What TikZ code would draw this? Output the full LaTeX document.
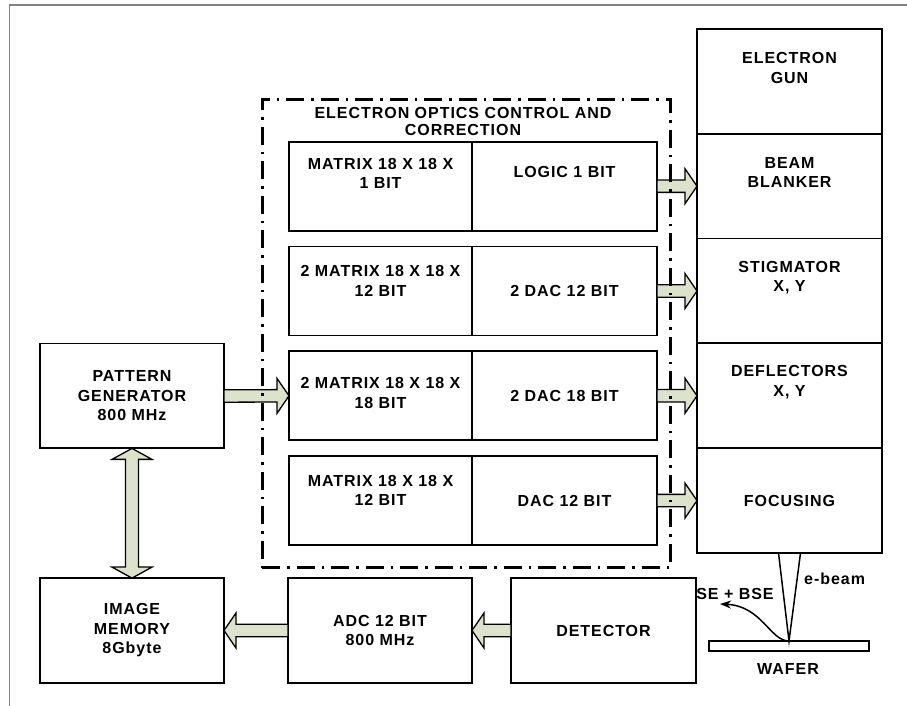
\documentclass[tikz,border=0pt]{standalone}
\usepackage{fontspec}
\setmainfont{Liberation Sans}[LetterSpace=6]
\usetikzlibrary{arrows.meta,positioning,calc}
\definecolor{arrowfill}{RGB}{221,226,204}
\definecolor{framegray}{RGB}{130,130,130}
\newcommand{\boxfont}{\bfseries\fontsize{16}{19.5}\selectfont}

\begin{document}
\begin{tikzpicture}[
    x=1pt, y=1pt,
    blk/.style={draw, line width=1.8pt, outer sep=0pt, align=center, font=\boxfont, minimum width=184pt, minimum height=104.8pt},
    cell/.style={blk, minimum height=89pt},
    txt/.style={align=center, font=\boxfont, inner sep=0pt},
    ctrl/.style={draw, line width=3pt, dash pattern=on 18pt off 7pt on 2.5pt off 7pt},
    frame/.style={draw=framegray, line width=1.4pt},
    beam/.style={line width=1.5pt, line join=miter},
    emit/.style={line width=1.5pt, -{Stealth[length=11pt, width=8pt]}},
    fat/.style={draw, fill=arrowfill, line width=1.3pt, to path={
        ($(\tikztostart)!6.2pt!90:(\tikztotarget)$)
        -- ($(\tikztotarget)!12pt!(\tikztostart)!6.2pt!90:(\tikztotarget)$)
        -- ($(\tikztotarget)!12pt!(\tikztostart)!17.5pt!90:(\tikztotarget)$)
        -- (\tikztotarget)
        -- ($(\tikztotarget)!12pt!(\tikztostart)!17.5pt!-90:(\tikztotarget)$)
        -- ($(\tikztotarget)!12pt!(\tikztostart)!6.2pt!-90:(\tikztotarget)$)
        -- ($(\tikztostart)!6.2pt!-90:(\tikztotarget)$) -- cycle}},
    fatboth/.style={draw, fill=arrowfill, line width=1.3pt, to path={
        ($(\tikztostart)!11pt!(\tikztotarget)!6.5pt!90:(\tikztotarget)$)
        -- ($(\tikztotarget)!11pt!(\tikztostart)!6.5pt!90:(\tikztotarget)$)
        -- ($(\tikztotarget)!11pt!(\tikztostart)!20pt!90:(\tikztotarget)$)
        -- (\tikztotarget)
        -- ($(\tikztotarget)!11pt!(\tikztostart)!20pt!-90:(\tikztotarget)$)
        -- ($(\tikztotarget)!11pt!(\tikztostart)!6.5pt!-90:(\tikztotarget)$)
        -- ($(\tikztostart)!11pt!(\tikztotarget)!6.5pt!-90:(\tikztotarget)$)
        -- ($(\tikztostart)!11pt!(\tikztotarget)!20pt!-90:(\tikztotarget)$)
        -- (\tikztostart)
        -- ($(\tikztostart)!11pt!(\tikztotarget)!20pt!90:(\tikztotarget)$) -- cycle}}
]
\useasboundingbox (0,0) rectangle (907,706);
\draw[frame] (9.5,0) -- (9.5,701) -- (907,701);

% column of the electron optics
\node[blk, minimum width=185pt, label={[txt, yshift=13.5pt]center:ELECTRON\\GUN}] (gun) at (789.5,624.6) {};
\node[blk, minimum width=185pt, below=0pt of gun, label={[txt, yshift=13.5pt]center:BEAM\\BLANKER}] (blank) {};
\node[blk, minimum width=185pt, below=0pt of blank, label={[txt, yshift=13.5pt]center:STIGMATOR\\X, Y}] (stig) {};
\node[blk, minimum width=185pt, below=0pt of stig, label={[txt, yshift=13.5pt]center:DEFLECTORS\\X, Y}] (defl) {};
\node[blk, minimum width=185pt, below=0pt of defl] (foc) {FOCUSING};

% control and correction
\node[txt, font=\bfseries\fontsize{16}{17.5}\selectfont] (title) at (463,584.5) {ELECTRON OPTICS CONTROL AND\\CORRECTION};
\node[cell, minimum width=183pt, label={[txt, yshift=13pt]center:MATRIX 18 X 18 X\\1 BIT}] (mat1) at (380.5,519.8) {};
\node[cell, minimum width=185pt, right=0pt of mat1, label={[txt, yshift=14pt]center:LOGIC 1 BIT}] (logic1) {};
\node[cell, minimum width=183pt, below=15.8pt of mat1, label={[txt, yshift=10pt]center:2 MATRIX 18 X 18 X\\12 BIT}] (mat2) {};
\node[cell, minimum width=185pt, right=0pt of mat2] (dac2) {2 DAC 12 BIT};
\node[cell, minimum width=183pt, below=15.8pt of mat2, label={[txt, yshift=3pt]center:2 MATRIX 18 X 18 X\\18 BIT}] (mat3) {};
\node[cell, minimum width=185pt, right=0pt of mat3] (dac3) {2 DAC 18 BIT};
\node[cell, minimum width=183pt, below=15.8pt of mat3, label={[txt, yshift=10pt]center:MATRIX 18 X 18 X\\12 BIT}] (mat4) {};
\node[cell, minimum width=185pt, right=0pt of mat4] (dac4) {DAC 12 BIT};

% left side and bottom row
\node[blk] (pgen) at (132,310) {PATTERN\\GENERATOR\\800 MHz};
\node[blk] (imem) at (132,75.5) {IMAGE\\MEMORY\\8Gbyte};
\node[blk, right=64pt of imem] (adc) {ADC 12 BIT\\800 MHz};
\node[blk, minimum width=185pt, right=39pt of adc] (det) {DETECTOR};

% wafer and beam
\node[draw, line width=1.6pt, minimum width=160pt, minimum height=10pt, inner sep=0pt, outer sep=0pt] (wafer) at (789,60) {};
\node[txt] (waferlbl) at (788,37) {WAFER};
\node[txt, anchor=west] (ebeam) at (804,127) {e-beam};
\node[txt] (sebse) at (735,112) {SE + BSE};
\coordinate (setip) at (720,102);

\draw[fat] (logic1.east) to (blank.west);
\draw[fat] (dac2.east) to (stig.west);
\draw[fat] (dac3.east) to (defl.west);
\draw[fat] (dac4.east) to (foc.west);
\draw[fat] (pgen.east) to (mat3.west);
\draw[fatboth] (pgen.south) to (imem.north);
\draw[fat] (adc.west) to (imem.east);
\draw[fat] (det.west) to (adc.east);

\draw[beam] ([xshift=-11pt]foc.south) -- (wafer.north) -- ([xshift=11pt]foc.south);
\draw[emit] (wafer.north) .. controls (770,65) and (762,100) .. (setip);

\node[ctrl, minimum width=408pt, minimum height=468pt] (ctrlbox) at (466,372) {};
\end{tikzpicture}
\end{document}
